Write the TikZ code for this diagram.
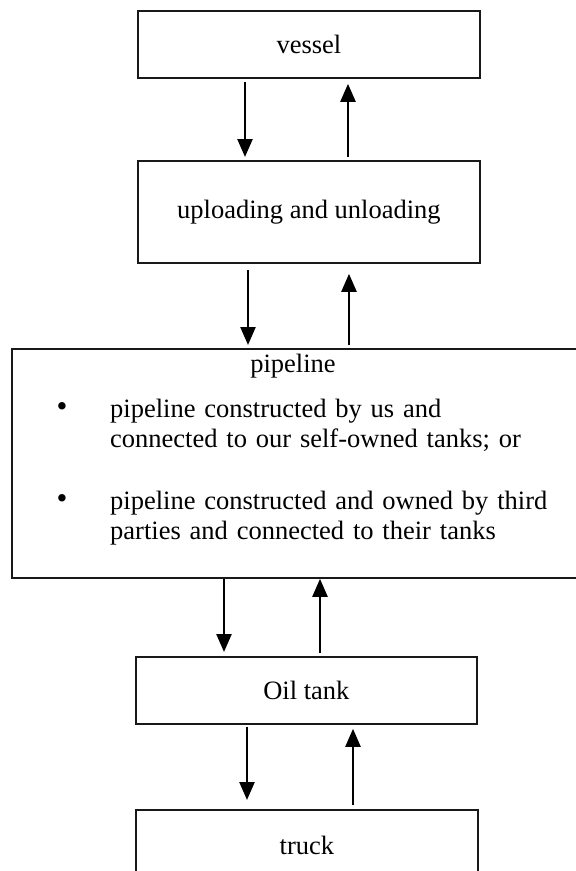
\documentclass[tikz,border=0pt]{standalone}
\usepackage{fontspec}
\setmainfont{Liberation Serif}
\usepackage{tikz}
\usetikzlibrary{arrows.meta}
\tikzset{
  stage/.style = {draw=black!90, line width=1.8pt, rectangle, inner sep=0pt,
    anchor=north west, font=\fontsize{26.5}{30}\selectfont},% boite d'etape
  note/.style = {inner sep=0pt, align=left, text width=460pt,
    font=\fontsize{26.5}{30}\selectfont},% texte de la liste
  dot/.style = {inner sep=0pt, font=\fontsize{26.5}{30}\selectfont},% titre
  puce/.style = {inner sep=0pt, font=\fontsize{31}{31}\selectfont},% puce
  flow/.style = {line width=2.4pt, -{Triangle[length=18pt, width=15pt]}}% fleche
}
\begin{document}
\begin{tikzpicture}[x=1pt, y=-1pt]
  \useasboundingbox (0,0) rectangle (576,871);
  \node [stage, minimum width=342pt, minimum height=67pt] (vessel) at (137,10) {vessel};
  \node [stage, minimum width=342pt, minimum height=102pt] (loading) at (137,160) {uploading and unloading};
  \node [stage, minimum width=572pt, minimum height=229pt] (pipeline) at (11,348) {};
  \node [stage, minimum width=341pt, minimum height=67pt] (tank) at (135,656) {Oil tank};
  \node [stage, minimum width=342pt, minimum height=72pt] (truck) at (135,809) {truck};
  % texte du pipeline
  \node [dot, anchor=base] (title) at (293,372) {pipeline};
  \node [puce] (dotA) at (62,410) {\textbullet};
  \node [note, anchor=north west] (ownA) at (110,399) {pipeline constructed by us and\\connected to our self-owned tanks; or};
  \node [puce] (dotB) at (62,502) {\textbullet};
  \node [note, anchor=north west] (ownB) at (110,491) {pipeline constructed and owned by third\\parties and connected to their tanks};
  % fleches
  \draw [flow, shorten <=3pt, shorten >=3pt] (245,0 |- vessel.south) -- (245,0 |- loading.north);
  \draw [flow, shorten <=3pt, shorten >=5pt] (348,0 |- loading.north) -- (348,0 |- vessel.south);
  \draw [flow, shorten <=6pt, shorten >=3pt] (248,0 |- loading.south) -- (248,0 |- pipeline.north);
  \draw [flow, shorten <=3pt, shorten >=10pt] (349,0 |- pipeline.north) -- (349,0 |- loading.south);
  \draw [flow, shorten >=4pt] (224,0 |- pipeline.south) -- (224,0 |- tank.north);
  \draw [flow, shorten <=3pt] (320,0 |- tank.north) -- (320,0 |- pipeline.south);
  \draw [flow, shorten <=2pt, shorten >=9pt] (247,0 |- tank.south) -- (247,0 |- truck.north);
  \draw [flow, shorten <=4pt, shorten >=4pt] (353,0 |- truck.north) -- (353,0 |- tank.south);
\end{tikzpicture}
\end{document}
